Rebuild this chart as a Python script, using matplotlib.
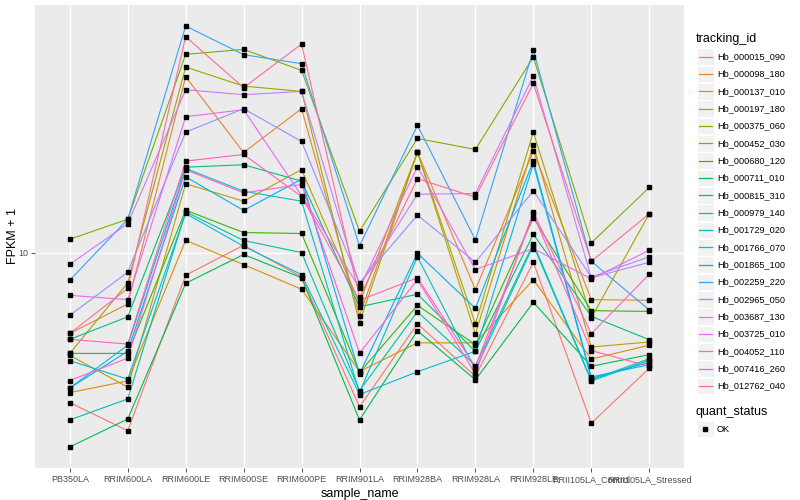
import numpy as np
import matplotlib.pyplot as plt

plt.rcParams['font.family'] = ['Liberation Sans', 'DejaVu Sans']

samples = ['PB350LA', 'RRIM600LA', 'RRIM600LE', 'RRIM600SE', 'RRIM600PE', 'RRIM901LA',
           'RRIM928BA', 'RRIM928LA', 'RRIM928LE', 'RRII105LA_Control', 'RRII105LA_Stressed']

tracking_ids = ['Hb_000015_090', 'Hb_000098_180', 'Hb_000137_010', 'Hb_000197_180', 'Hb_000375_060',
                'Hb_000452_030', 'Hb_000680_120', 'Hb_000711_010', 'Hb_000815_310', 'Hb_000979_140',
                'Hb_001729_020', 'Hb_001766_070', 'Hb_001865_100', 'Hb_002259_220', 'Hb_002965_050',
                'Hb_003687_130', 'Hb_003725_010', 'Hb_004052_110', 'Hb_007416_260', 'Hb_012762_040']

# FPKM + 1, one list per gene, in sample order
fpkm = [
    [4.22, 3.59, 8.78, 10.43, 8.69, 4.12, 6.64, 4.91, 9.46, 3.75, 5.14],
    [6.28, 7.44, 27.49, 17.78, 22.87, 6.96, 17.81, 8.08, 17.92, 7.63, 7.60],
    [4.47, 4.78, 10.73, 9.33, 8.10, 5.05, 5.95, 5.95, 8.55, 5.42, 5.87],
    [5.54, 4.61, 14.85, 13.44, 16.12, 7.49, 17.81, 6.26, 18.55, 5.81, 5.98],
    [5.60, 8.40, 29.06, 26.05, 25.26, 6.68, 17.81, 6.64, 19.99, 6.87, 12.50],
    [10.80, 12.11, 31.26, 32.17, 28.51, 11.30, 19.28, 18.09, 30.78, 10.57, 14.54],
    [5.60, 5.60, 12.76, 11.22, 11.16, 5.02, 7.38, 5.89, 12.21, 7.16, 7.13],
    [3.27, 3.84, 8.38, 9.89, 8.65, 3.82, 6.38, 4.81, 7.51, 5.20, 5.56],
    [6.07, 6.91, 16.34, 16.57, 15.08, 7.32, 7.87, 5.67, 11.11, 6.93, 6.06],
    [3.82, 4.31, 12.64, 10.72, 10.00, 4.52, 7.12, 5.22, 10.53, 4.81, 5.43],
    [4.59, 5.87, 16.22, 14.23, 13.44, 4.47, 9.76, 5.10, 10.41, 4.78, 5.38],
    [5.37, 4.83, 12.52, 10.37, 8.81, 4.42, 5.04, 5.67, 16.66, 4.85, 5.32],
    [4.59, 5.67, 15.46, 12.74, 15.25, 4.98, 9.96, 7.26, 16.92, 4.89, 5.25],
    [8.53, 12.11, 36.79, 31.21, 29.63, 10.39, 20.77, 10.76, 32.04, 9.51, 7.19],
    [6.97, 8.93, 19.99, 22.87, 18.95, 8.40, 12.40, 9.46, 14.26, 8.69, 9.76],
    [9.35, 11.80, 25.51, 24.79, 25.26, 8.27, 13.99, 14.04, 27.59, 8.65, 9.46],
    [7.82, 7.63, 21.84, 22.74, 13.88, 8.16, 16.38, 9.07, 10.23, 8.60, 10.13],
    [4.79, 5.45, 16.10, 14.10, 14.79, 5.61, 8.55, 4.98, 12.61, 6.27, 8.83],
    [6.07, 5.91, 16.92, 17.58, 13.80, 7.60, 8.65, 5.18, 12.45, 5.69, 5.20],
    [6.28, 8.14, 34.61, 25.81, 33.17, 7.73, 15.29, 13.75, 26.46, 9.51, 12.50],
]

# ggplot2 default hue palette for 20 levels
colors = ['#F8766D', '#EA8331', '#D89000', '#C09B00', '#A3A500', '#7CAE00', '#39B600', '#00BB4E',
          '#00BF7D', '#00C1A3', '#00BFC4', '#00BAE0', '#00B0F6', '#35A2FF', '#9590FF', '#C77CFF',
          '#E76BF3', '#FA62DB', '#FF62BC', '#FF6C91']

W, H = 800, 500
fig = plt.figure(figsize=(8, 5), dpi=100)
ax = fig.add_axes([35 / W, 1 - 468 / H, 649 / W, 463 / H])
ax.set_facecolor('#EBEBEB')

x = np.arange(1, len(samples) + 1)
for vals, c in zip(fpkm, colors):
    ax.plot(x, vals, color=c, lw=0.8, zorder=2)
for vals in fpkm:
    ax.plot(x, vals, ls='none', marker='s', ms=2.6, color='black', zorder=3)

ax.set_yscale('log')
allv = np.log10(np.array(fpkm))
lo, hi = allv.min(), allv.max()
pad = (hi - lo) * 0.05
ax.set_ylim(10 ** (lo - pad), 10 ** (hi + pad))
ax.set_xlim(0.4, len(samples) + 0.6)

ax.set_yticks([10])
ax.set_yticklabels(['10'])
ax.yaxis.set_minor_locator(plt.NullLocator())
ax.set_xticks(x)
ax.set_xticklabels(samples)
ax.tick_params(axis='both', length=3, width=0.6, color='#333333', labelcolor='#4D4D4D',
               labelsize=6.5, pad=2)
ax.grid(True, which='major', color='white', lw=1.0)
ax.set_axisbelow(True)
for s in ax.spines.values():
    s.set_visible(False)

ax.set_xlabel('sample_name', fontsize=9, labelpad=3)
fig.text(13 / W, 1 - 236 / H, 'FPKM + 1', fontsize=9, rotation=90, ha='center', va='center')

# legend drawn in pixel space
lg = fig.add_axes([0, 0, 1, 1], facecolor='none')
lg.set_xlim(0, W)
lg.set_ylim(H, 0)
lg.axis('off')

lg.text(696, 39, 'tracking_id', fontsize=9, va='center', ha='left')
step = 17.33
for i, (name, c) in enumerate(zip(tracking_ids, colors)):
    cy = 56.7 + i * step
    lg.add_patch(plt.Rectangle((697, cy - 8.3), 16.6, 16.6, facecolor='#F2F2F2', edgecolor='white', lw=0.8))
    lg.plot([698.5, 711.5], [cy, cy], color=c, lw=0.9)
    lg.text(717, cy, name, fontsize=6.6, va='center', ha='left')

lg.text(696, 412.5, 'quant_status', fontsize=9, va='center', ha='left')
lg.add_patch(plt.Rectangle((697, 429 - 8.3), 16.6, 16.6, facecolor='#F2F2F2', edgecolor='white', lw=0.8))
lg.plot([705], [429], marker='s', ms=2.6, color='black')
lg.text(717, 429, 'OK', fontsize=6.6, va='center', ha='left')

fig.savefig('out.png', dpi=100)
